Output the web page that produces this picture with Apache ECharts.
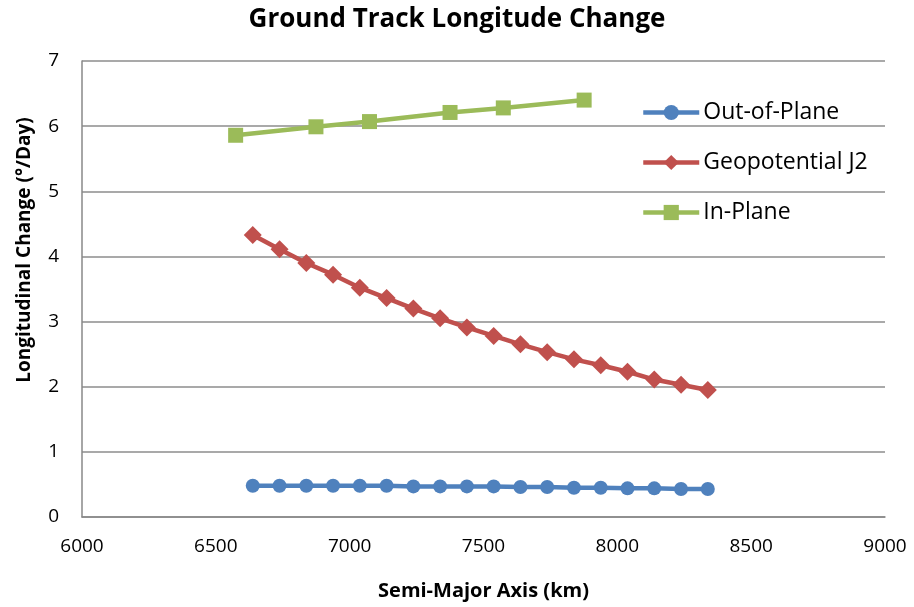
<!DOCTYPE html>
<html>
<head>
<meta charset="utf-8">
<script src="https://cdn.jsdelivr.net/npm/echarts@6/dist/echarts.min.js"></script>
<style>
  html, body { margin: 0; padding: 0; background: #fff; }
  #chart { width: 914px; height: 607px; }
</style>
</head>
<body>
<div id="chart"></div>
<script>
// Semi-major axis (km) for the perturbation series
const semiMajorAxis = [6638, 6738, 6838, 6938, 7038, 7138, 7238, 7338, 7438, 7538,
                       7638, 7738, 7838, 7938, 8038, 8138, 8238, 8338];
// Out-of-plane longitude drift (°/day)
const outOfPlane = [0.48, 0.48, 0.48, 0.48, 0.48, 0.48, 0.47, 0.47, 0.47, 0.47,
                    0.46, 0.46, 0.45, 0.45, 0.44, 0.44, 0.43, 0.43];
// J2 nodal regression (°/day)
const geopotentialJ2 = [4.33, 4.11, 3.90, 3.72, 3.52, 3.36, 3.20, 3.05, 2.91, 2.78,
                        2.65, 2.53, 2.42, 2.33, 2.23, 2.11, 2.03, 1.95];
// In-plane series: its own semi-major axis samples and values
const inPlaneAxis = [6574, 6874, 7074, 7375, 7574, 7876];
const inPlane = [5.86, 5.99, 6.07, 6.21, 6.28, 6.40];

const FONT = '"Open Sans", "Noto Sans", sans-serif';
const pairs = (xs, ys) => xs.map((x, i) => [x, ys[i]]);

const chart = echarts.init(document.getElementById('chart'), null, { renderer: 'canvas' });
chart.setOption({
  animation: false,
  backgroundColor: '#ffffff',
  title: {
    text: 'Ground Track Longitude Change',
    left: 'center',
    top: 2,
    textStyle: { fontFamily: FONT, fontSize: 26, fontWeight: 'bold', color: '#000' }
  },
  legend: {
    orient: 'vertical',
    left: 636,
    top: 96,
    itemGap: 27,
    itemWidth: 56,
    itemHeight: 19,
    lineStyle: { width: 4.5 },
    textStyle: { fontFamily: FONT, fontSize: 23, color: '#000', padding: [0, 0, 0, -1] },
    data: ['Out-of-Plane', 'Geopotential J2', 'In-Plane']
  },
  grid: { left: 82, right: 29, top: 61, bottom: 90, containLabel: false },
  xAxis: {
    type: 'value',
    min: 6000, max: 9000, interval: 500,
    name: 'Semi-Major Axis (km)',
    nameLocation: 'middle',
    nameGap: 64,
    nameTextStyle: { fontFamily: FONT, fontSize: 20, fontWeight: 'bold', color: '#000' },
    axisLine: { lineStyle: { color: '#888', width: 1.5 } },
    axisTick: { show: false },
    axisLabel: { fontFamily: FONT, fontSize: 19, color: '#000', margin: 20, formatter: v => String(v) },
    splitLine: { show: false }
  },
  yAxis: {
    type: 'value',
    min: 0, max: 7, interval: 1,
    name: 'Longitudinal Change (°/Day)',
    nameLocation: 'middle',
    nameGap: 48,
    nameTextStyle: { fontFamily: FONT, fontSize: 19, fontWeight: 'bold', color: '#000', padding: [0, 0, 0, 78] },
    axisLine: { show: true, lineStyle: { color: '#888', width: 1.5 } },
    axisTick: { show: false },
    axisLabel: { fontFamily: FONT, fontSize: 19, color: '#000', margin: 23 },
    splitLine: { lineStyle: { color: '#8c8c8c', width: 1.5 } }
  },
  series: [
    {
      name: 'Out-of-Plane',
      type: 'line',
      data: pairs(semiMajorAxis, outOfPlane),
      symbol: 'circle',
      symbolSize: 14,
      color: '#4F81BD',
      lineStyle: { width: 4.5, color: '#4F81BD' },
      itemStyle: { color: '#4F81BD' }
    },
    {
      name: 'Geopotential J2',
      type: 'line',
      data: pairs(semiMajorAxis, geopotentialJ2),
      symbol: 'diamond',
      symbolSize: 18,
      color: '#C0504D',
      lineStyle: { width: 4.5, color: '#C0504D' },
      itemStyle: { color: '#C0504D' }
    },
    {
      name: 'In-Plane',
      type: 'line',
      data: pairs(inPlaneAxis, inPlane),
      symbol: 'rect',
      symbolSize: 15,
      color: '#9BBB59',
      lineStyle: { width: 4.5, color: '#9BBB59' },
      itemStyle: { color: '#9BBB59' }
    }
  ]
});
</script>
</body>
</html>
